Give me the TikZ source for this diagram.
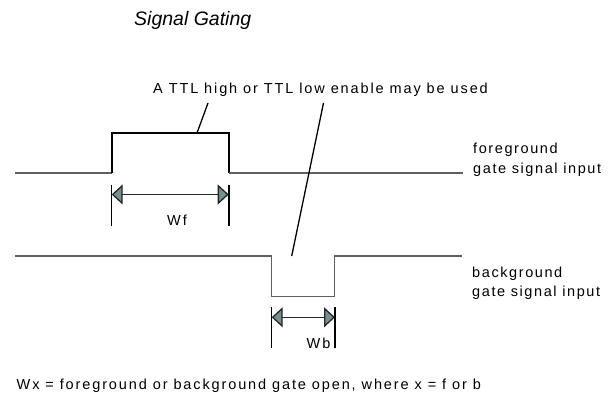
\documentclass[tikz,border=0pt]{standalone}
\usepackage{fontspec}
\setmainfont{Liberation Sans}
\usetikzlibrary{arrows.meta}
\definecolor{wavegray}{RGB}{95,95,95}
\definecolor{headfill}{RGB}{115,145,145}
\begin{document}
\begin{tikzpicture}[x=1pt,y=-1pt,
  lbl/.style={anchor=base west, inner sep=0pt,
    font=\fontsize{14.5}{17}\selectfont\addfontfeature{LetterSpace=13}},
  sidelbl/.style={lbl, font=\fontsize{14.5}{17}\selectfont\addfontfeature{LetterSpace=11}},
  ttl/.style={anchor=base west, inner sep=0pt,
    font=\fontsize{19.5}{23}\selectfont\itshape},
  lowline/.style={draw=wavegray, line width=1.3pt},
  pulse/.style={draw=black, line width=1.9pt},
  leader/.style={draw=black, line width=1.3pt},
  tick/.style={draw=black, line width=1.2pt},
  boldtick/.style={draw=black, line width=2.2pt},
  dim/.style={draw=black!85, line width=1.3pt,
    {Triangle[length=11pt,width=20pt,fill=headfill]}-{Triangle[length=11pt,width=20pt,fill=headfill]}}]
\useasboundingbox (0,0) rectangle (613,396);

% texts
\node[ttl] (title) at (134,26) {Signal Gating};
\node[lbl] (ttltxt) at (153,93) {A TTL high or TTL low enable may be used};
\node[sidelbl] (fg1) at (473,153) {foreground};
\node[sidelbl] (fg2) at (473,173) {gate signal input};
\node[sidelbl] (bg1) at (472,277) {background};
\node[sidelbl] (bg2) at (472,296) {gate signal input};
\node[lbl] (wf) at (167,225) {Wf};
\node[lbl] (wb) at (306.5,348) {Wb};
\node[lbl] (note) at (16.5,389) {Wx = foreground or background gate open, where x = f or b};

% foreground waveform
\coordinate (f0) at (15,173);
\coordinate (f1) at (111.7,173);
\coordinate (f2) at (111.7,133);
\coordinate (f3) at (228.7,133);
\coordinate (f4) at (228.7,173);
\coordinate (f5) at (463,173);
\draw[lowline] (f0) -- (f1);
\draw[pulse] (f1) -- (f2) -- (f3) -- (f4);
\draw[lowline] (f4) -- (f5);

% background waveform
\coordinate (b0) at (15,256);
\coordinate (b1) at (271.7,256);
\coordinate (b2) at (271.7,296.7);
\coordinate (b3) at (334.5,296.7);
\coordinate (b4) at (334.5,256);
\coordinate (b5) at (461.7,256);
\draw[lowline, line join=miter] (b0) -- (b1) -- (b2) -- (b3) -- (b4) -- (b5);

% leaders
\coordinate (l1a) at (208,103);
\coordinate (l1b) at (197,133);
\coordinate (l2a) at (323.5,103);
\coordinate (l2b) at (291.7,256);
\draw[leader] (l1a) -- (l1b);
\draw[leader] (l2a) -- (l2b);

% Wf dimension
\coordinate (wft1) at (111.7,185);
\coordinate (wfb1) at (111.7,226);
\coordinate (wft2) at (228.7,185);
\coordinate (wfb2) at (228.7,226);
\draw[tick] (wft1) -- (wfb1);
\draw[boldtick] (wft2) -- (wfb2);
\coordinate (wfl) at (111.7,194.5);
\coordinate (wfr) at (228.7,194.5);
\draw[dim] (wfl) -- (wfr);

% Wb dimension
\coordinate (wbt1) at (271.7,307);
\coordinate (wbb1) at (271.7,348);
\coordinate (wbt2) at (335,307);
\coordinate (wbb2) at (335,348);
\draw[tick] (wbt1) -- (wbb1);
\draw[boldtick] (wbt2) -- (wbb2);
\coordinate (wbl) at (271.7,317.3);
\coordinate (wbr) at (335,317.3);
\draw[dim] (wbl) -- (wbr);
\end{tikzpicture}
\end{document}
